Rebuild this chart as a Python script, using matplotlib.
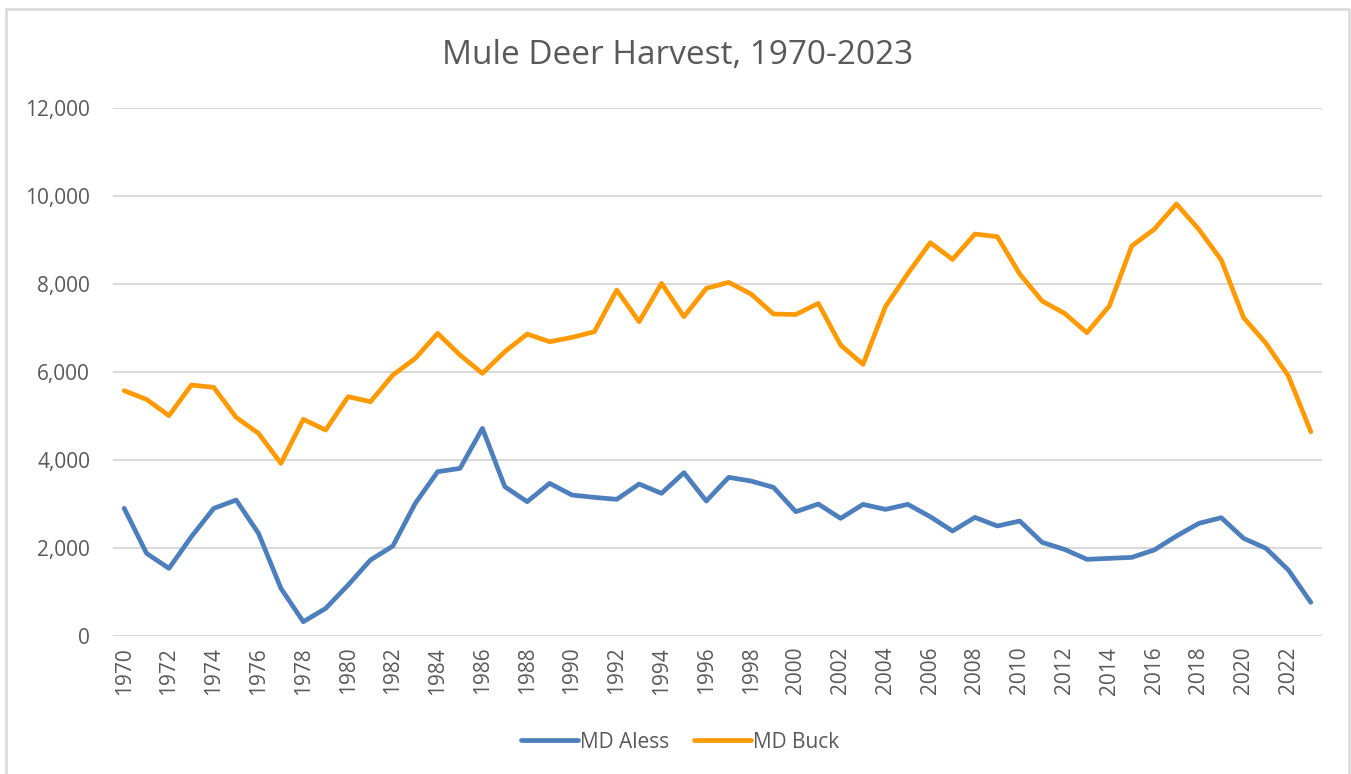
import matplotlib
matplotlib.use("Agg")
import matplotlib.pyplot as plt
from matplotlib.patches import Rectangle
from matplotlib.ticker import FuncFormatter, MultipleLocator

years = list(range(1970, 2024))
md_aless = [2894, 1871, 1530, 2250, 2894, 3083, 2326, 1076, 318, 621,
            1152, 1720, 2038, 3008, 3727, 3803, 4712, 3386, 3046, 3462,
            3197, 3144, 3099, 3447, 3235, 3705, 3061, 3599, 3515, 3371,
            2818, 2993, 2667, 2985, 2871, 2985, 2705, 2379, 2689, 2493,
            2606, 2121, 1962, 1735, 1758, 1780, 1947, 2265, 2553, 2682,
            2212, 1985, 1492, 758]
md_buck = [5568, 5370, 5000, 5697, 5644, 4962, 4599, 3917, 4917, 4674,
           5432, 5318, 5924, 6303, 6871, 6379, 5962, 6455, 6856, 6682,
           6780, 6909, 7856, 7137, 8008, 7250, 7894, 8030, 7765, 7311,
           7300, 7553, 6606, 6167, 7477, 8230, 8932, 8553, 9129, 9068,
           8220, 7606, 7326, 6887, 7493, 8856, 9235, 9811, 9235, 8538,
           7227, 6644, 5902, 4636]
series_names = ["MD Aless", "MD Buck"]
title = "Mule Deer Harvest, 1970-2023"

W, H = 1351, 774
fig = plt.figure(figsize=(W / 100, H / 100), dpi=100)
fig.patch.set_facecolor("white")

FONT = ["Open Sans", "DejaVu Sans"]
GRAY = "#595959"

left, right, top, bottom = 113, 1322, 107.7, 635.7
ax = fig.add_axes([left / W, 1 - bottom / H, (right - left) / W, (bottom - top) / H])

c_blue = "#4E7FBD"
c_orange = "#FF9A00"
l1, = ax.plot(years, md_aless, color=c_blue, lw=3.4, solid_joinstyle="round",
              solid_capstyle="round", label=series_names[0], zorder=3)
l2, = ax.plot(years, md_buck, color=c_orange, lw=3.4, solid_joinstyle="round",
              solid_capstyle="round", label=series_names[1], zorder=3)

ax.set_xlim(1969.5, 2023.5)
ax.set_ylim(0, 12000)
ax.yaxis.set_major_locator(MultipleLocator(2000))
ax.yaxis.set_major_formatter(FuncFormatter(lambda v, p: f"{int(v):,}"))
ax.set_xticks(years[::2])
ax.set_xticklabels([str(y) for y in years[::2]], rotation=90, fontfamily=FONT,
                   fontsize=15, color=GRAY)
for lab in ax.get_yticklabels():
    lab.set_fontfamily(FONT)
    lab.set_fontsize(15)
    lab.set_color(GRAY)
ax.tick_params(axis="both", length=0)
ax.tick_params(axis="y", pad=16.5)
ax.tick_params(axis="x", pad=8)
ax.grid(axis="y", color="#D9D9D9", lw=1.5, zorder=0)
ax.set_axisbelow(True)
for s in ax.spines.values():
    s.set_visible(False)

fig.text(678 / W, 1 - 64 / H, title, ha="center", va="baseline", fontsize=24,
         color=GRAY, fontfamily=FONT)

leg = fig.legend(handles=[l1, l2], loc="center", bbox_to_anchor=(680 / W, 1 - 742 / H),
                 ncol=2, frameon=False, handlelength=2.74, handletextpad=0.1,
                 columnspacing=1.2, prop={"family": FONT, "size": 15})
for t in leg.get_texts():
    t.set_color(GRAY)

fig.patches.append(Rectangle((6 / W, -0.05), (1349 - 6) / W, 1.05 - 9 / H,
                             transform=fig.transFigure, fill=False,
                             edgecolor="#D9D9D9", lw=1.8))

fig.savefig("out.png", dpi=100)
